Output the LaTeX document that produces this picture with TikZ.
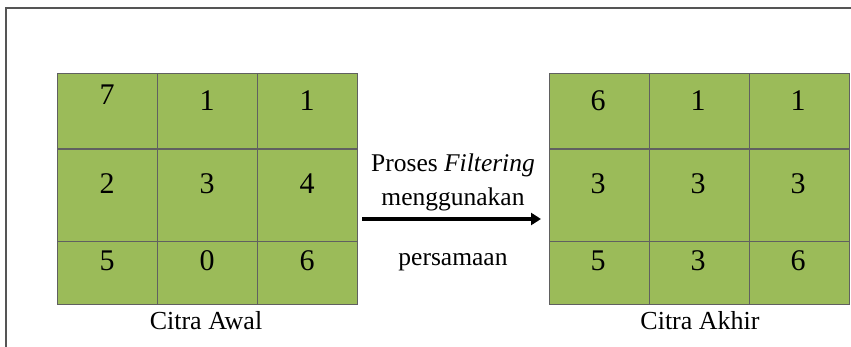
\documentclass[tikz,border=0pt]{standalone}
\usepackage{fontspec}
\setmainfont{Liberation Serif}
\usetikzlibrary{arrows.meta}
\definecolor{cellgreen}{HTML}{9BBB59}
\definecolor{gridgray}{HTML}{606060}
\definecolor{framegray}{HTML}{555555}
\begin{document}
\begin{tikzpicture}[x=1pt,y=-1pt,
  cell/.style={draw=gridgray,line width=1.3pt,fill=cellgreen,inner sep=0pt},
  num/.style={font=\fontsize{30}{30}\selectfont,inner sep=0pt},
  caption/.style={font=\fontsize{26}{26}\selectfont,inner sep=0pt},
  proc/.style={font=\fontsize{25.5}{25.5}\selectfont,inner sep=0pt}]
\useasboundingbox (0,0) rectangle (851,347);
% outer frame
\begin{scope}
\clip (0,0) rectangle (851,347);
\draw[framegray,line width=1.4pt] (6,360) -- (6,8) -- (860,8);
\end{scope}
% grids: column left edges, row edges
\foreach \g/\x in {A/57,B/548.5}{
  \foreach \c in {0,1,2}{
    \node[cell,anchor=north west,minimum width=100pt,minimum height=75.6pt] (\g0\c) at (\x+100*\c,72.7) {};
    \node[cell,anchor=north west,minimum width=100pt,minimum height=92.7pt] (\g1\c) at (\x+100*\c,148.3) {};
    \node[cell,anchor=north west,minimum width=100pt,minimum height=63pt] (\g2\c) at (\x+100*\c,241) {};
  }
}
% values, initial image
\node[num] (a00) at (107,95) {7};
\node[num] (a01) at (207,101) {1};
\node[num] (a02) at (307,101) {1};
\node[num] (a10) at (107,184) {2};
\node[num] (a11) at (207,184) {3};
\node[num] (a12) at (307,184) {4};
\node[num] (a20) at (107,261) {5};
\node[num] (a21) at (207,261) {0};
\node[num] (a22) at (307,261) {6};
% values, final image
\node[num] (b00) at (598,101) {6};
\node[num] (b01) at (698,101) {1};
\node[num] (b02) at (798,101) {1};
\node[num] (b10) at (598,184) {3};
\node[num] (b11) at (698,184) {3};
\node[num] (b12) at (798,184) {3};
\node[num] (b20) at (598,261) {5};
\node[num] (b21) at (698,261) {3};
\node[num] (b22) at (798,261) {6};
% captions
\node[caption] (capA) at (206,321) {Citra Awal};
\node[caption] (capB) at (700,321) {Citra Akhir};
% process label and arrow
\node[proc] (t1) at (453,165) {Proses \textit{Filtering}};
\node[proc] (t2) at (453,199) {menggunakan};
\node[proc] (t3) at (453,262) {persamaan};
\coordinate (arrS) at (362,219);
\coordinate (arrE) at (541,219);
\draw[line width=3.4pt,-{Triangle[length=10pt,width=12pt]}] (arrS) -- (arrE);
\end{tikzpicture}
\end{document}
